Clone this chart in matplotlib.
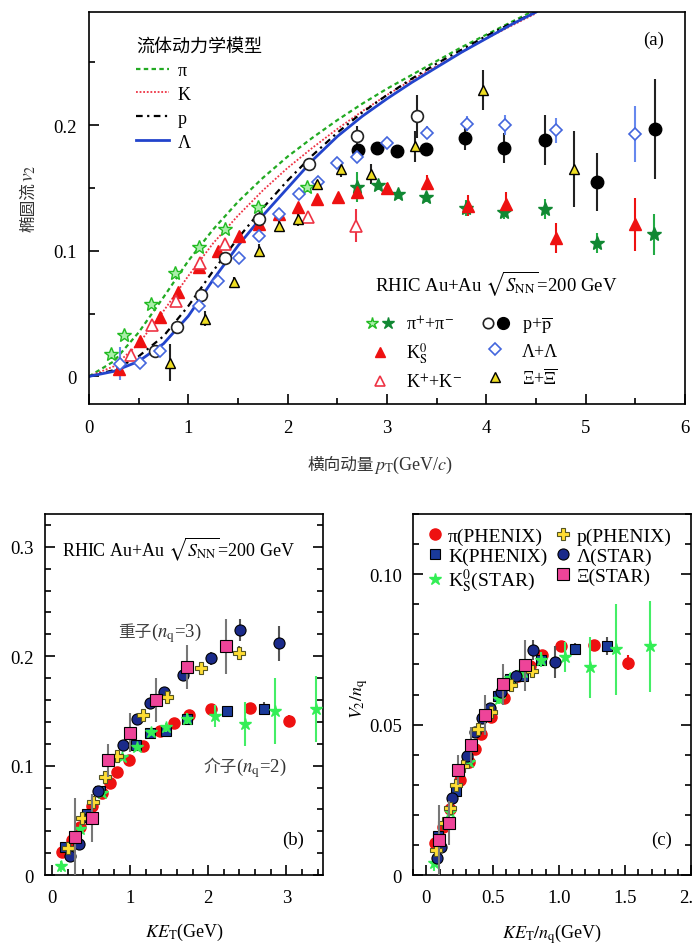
import numpy as np
import matplotlib
matplotlib.use("Agg")
import matplotlib.pyplot as plt
from matplotlib.lines import Line2D
from matplotlib.legend_handler import HandlerTuple
from matplotlib.ticker import MultipleLocator

plt.rcParams['font.family'] = ['Liberation Serif', 'Noto Sans CJK SC', 'DejaVu Sans']
plt.rcParams['mathtext.fontset'] = 'stix'
plt.rcParams['axes.linewidth'] = 1.2
CJK = ['Noto Sans CJK SC']

# ---------------- panel (a): v2 vs pT ----------------
# hydro curves
hydro_pt = [0, 0.25, 0.5, 0.75, 1.0, 1.25, 1.5, 1.75, 2.0, 2.25, 2.5, 2.75, 3.0, 3.25, 3.5, 3.75, 4.0, 4.25, 4.5]
hydro_pi = [0, 0.012, 0.035, 0.063, 0.092, 0.117, 0.139, 0.158, 0.175, 0.190, 0.204, 0.217, 0.229, 0.240, 0.251, 0.262, 0.272, 0.282, 0.292]
hydro_k = [0, 0.008, 0.026, 0.052, 0.080, 0.106, 0.128, 0.148, 0.166, 0.182, 0.197, 0.211, 0.224, 0.236, 0.247, 0.258, 0.269, 0.279, 0.289]
hydro_p = [0, 0.005, 0.016, 0.032, 0.056, 0.084, 0.110, 0.134, 0.156, 0.176, 0.194, 0.210, 0.224, 0.237, 0.249, 0.260, 0.271, 0.281, 0.290]
hydro_lam = [0, 0.004, 0.012, 0.026, 0.048, 0.077, 0.104, 0.128, 0.150, 0.172, 0.191, 0.207, 0.221, 0.234, 0.246, 0.258, 0.269, 0.280, 0.290]

pi_open_x = [0.22, 0.355, 0.62, 0.87, 1.11, 1.37, 1.70, 2.19]
pi_open_y = [0.0175, 0.033, 0.058, 0.0825, 0.103, 0.117, 0.135, 0.151]
pi_open_e = [0.004, 0.003, 0.003, 0.003, 0.003, 0.003, 0.003, 0.004]

pi_fill_x = [2.70, 2.91, 3.11, 3.39, 3.79, 4.18, 4.59, 5.11, 5.69]
pi_fill_y = [0.151, 0.152, 0.145, 0.143, 0.134, 0.131, 0.133, 0.106, 0.113]
pi_fill_e = [0.012, 0.004, 0.004, 0.004, 0.006, 0.006, 0.008, 0.008, 0.016]

k0s_x = [0.30, 0.51, 0.71, 0.90, 1.11, 1.30, 1.51, 1.71, 1.91, 2.10, 2.30, 2.51, 2.70, 3.00, 3.40, 3.81, 4.20, 4.70, 5.50]
k0s_y = [0.006, 0.028, 0.047, 0.067, 0.087, 0.100, 0.112, 0.121, 0.129, 0.135, 0.141, 0.143, 0.147, 0.150, 0.154, 0.136, 0.137, 0.110, 0.121]
k0s_e = [0.003, 0.003, 0.003, 0.003, 0.003, 0.003, 0.003, 0.003, 0.003, 0.003, 0.003, 0.003, 0.004, 0.004, 0.006, 0.008, 0.010, 0.012, 0.021]

kk_x = [0.42, 0.63, 0.88, 1.12, 1.37, 2.20, 2.69]
kk_y = [0.017, 0.041, 0.060, 0.090, 0.105, 0.127, 0.120]
kk_e = [0.003, 0.003, 0.003, 0.003, 0.003, 0.005, 0.013]

p_open_x = [0.66, 0.89, 1.13, 1.37, 1.71, 2.21, 2.70, 3.30]
p_open_y = [0.020, 0.039, 0.065, 0.094, 0.125, 0.169, 0.191, 0.207]
p_open_e = [0.003, 0.003, 0.003, 0.003, 0.004, 0.004, 0.008, 0.017]

p_fill_x = [2.71, 2.90, 3.10, 3.39, 3.78, 4.18, 4.59, 5.11, 5.70]
p_fill_y = [0.180, 0.182, 0.179, 0.181, 0.190, 0.182, 0.188, 0.155, 0.197]
p_fill_e = [0.004, 0.003, 0.003, 0.004, 0.010, 0.012, 0.020, 0.023, 0.040]

lam_x = [0.31, 0.51, 0.71, 1.11, 1.30, 1.51, 1.71, 1.91, 2.11, 2.31, 2.50, 2.70, 3.00, 3.40, 3.80, 4.19, 4.70, 5.50]
lam_y = [0.010, 0.011, 0.020, 0.056, 0.076, 0.094, 0.112, 0.129, 0.145, 0.155, 0.170, 0.175, 0.186, 0.194, 0.201, 0.200, 0.196, 0.193]
lam_e = [0.013, 0.003, 0.003, 0.003, 0.003, 0.003, 0.003, 0.003, 0.003, 0.003, 0.004, 0.004, 0.004, 0.005, 0.006, 0.008, 0.010, 0.022]

xi_x = [0.82, 1.17, 1.46, 1.71, 1.91, 2.10, 2.30, 2.54, 2.84, 3.28, 3.97, 4.88]
xi_y = [0.011, 0.046, 0.075, 0.100, 0.120, 0.125, 0.153, 0.165, 0.161, 0.183, 0.228, 0.165]
xi_e = [0.015, 0.006, 0.004, 0.005, 0.005, 0.005, 0.005, 0.006, 0.008, 0.012, 0.016, 0.030]

# ---------------- panel (b)/(c): v2 vs KE_T ----------------
pi_ke = [0.13, 0.25, 0.36, 0.51, 0.64, 0.74, 0.83, 0.98, 1.17, 1.38, 1.56, 1.75, 2.03, 2.53, 3.04]
pi_v2 = [0.021, 0.032, 0.044, 0.063, 0.075, 0.084, 0.094, 0.105, 0.118, 0.132, 0.139, 0.146, 0.152, 0.153, 0.141]
pi_v2e = [0.002, 0.002, 0.002, 0.002, 0.002, 0.002, 0.002, 0.002, 0.002, 0.002, 0.002, 0.002, 0.003, 0.003, 0.005]

k_ke = [0.17, 0.45, 0.62, 1.08, 1.26, 1.46, 1.73, 2.24, 2.72]
k_v2 = [0.026, 0.056, 0.077, 0.119, 0.130, 0.132, 0.143, 0.150, 0.152]
k_v2e = [0.002, 0.002, 0.002, 0.002, 0.002, 0.002, 0.003, 0.004, 0.006]

k0s_ke = [0.12, 0.36, 0.64, 0.90, 1.09, 1.27, 1.46, 1.73, 2.09, 2.47, 2.86, 3.38]
k0s_v2 = [0.008, 0.042, 0.075, 0.108, 0.117, 0.131, 0.135, 0.143, 0.145, 0.138, 0.150, 0.152]
k0s_v2e = [0.005, 0.002, 0.002, 0.002, 0.003, 0.003, 0.004, 0.005, 0.010, 0.020, 0.030, 0.030]

p_ke = [0.21, 0.39, 0.53, 0.68, 0.83, 1.17, 1.47, 1.91, 2.39]
p_v2 = [0.025, 0.052, 0.067, 0.090, 0.109, 0.146, 0.163, 0.189, 0.203]
p_v2e = [0.003, 0.003, 0.003, 0.003, 0.003, 0.004, 0.004, 0.005, 0.006]

lam_ke = [0.23, 0.34, 0.47, 0.59, 0.91, 1.09, 1.26, 1.43, 1.68, 2.04, 2.41, 2.91]
lam_v2 = [0.017, 0.028, 0.052, 0.077, 0.119, 0.143, 0.157, 0.167, 0.183, 0.198, 0.224, 0.212]
lam_v2e = [0.003, 0.003, 0.003, 0.003, 0.003, 0.003, 0.004, 0.004, 0.005, 0.006, 0.010, 0.016]

xi_ke = [0.29, 0.51, 0.72, 1.00, 1.33, 1.73, 2.23]
xi_v2 = [0.035, 0.052, 0.105, 0.130, 0.160, 0.190, 0.209]
xi_v2e = [0.035, 0.022, 0.015, 0.018, 0.020, 0.020, 0.025]

nq_meson = 2
nq_baryon = 3

fig = plt.figure(figsize=(6.92, 9.45), dpi=100)
ax = fig.add_axes([0.1286, 0.5714, 0.8614, 0.4148])

ax.plot(hydro_pt, hydro_pi, color='#22aa22', ls=(0, (2, 1.5)), lw=1.6, label='π')
ax.plot(hydro_pt, hydro_k, color='#ee3344', ls=(0, (1, 1)), lw=1.3, label='K')
ax.plot(hydro_pt, hydro_p, color='black', ls=(0, (3, 2, 1, 2)), lw=1.6, label='p')
ax.plot(hydro_pt, hydro_lam, color='#2244cc', ls='-', lw=2, label='Λ')

eb = dict(ls='none', elinewidth=1.5, capsize=0)
ax.errorbar(pi_open_x, pi_open_y, yerr=pi_open_e, fmt='*', ms=10, mfc='#aaeeaa', mec='#22bb22', ecolor='#22bb22', **eb)
ax.errorbar(pi_fill_x, pi_fill_y, yerr=pi_fill_e, fmt='*', ms=10, mfc='#118833', mec='#118833', ecolor='#22aa44', **eb)
ax.errorbar(k0s_x, k0s_y, yerr=k0s_e, fmt='^', ms=8, mfc='#ee1111', mec='#ee1111', ecolor='#ee1111', **eb)
ax.errorbar(kk_x, kk_y, yerr=kk_e, fmt='^', ms=8, mfc='white', mec='#ee3344', mew=1.2, ecolor='#ee3344', **eb)
ax.errorbar(p_open_x, p_open_y, yerr=p_open_e, fmt='o', ms=8.5, mfc='white', mec='#222222', mew=1.2, ecolor='#222222', **eb)
ax.errorbar(p_fill_x, p_fill_y, yerr=p_fill_e, fmt='o', ms=9, mfc='black', mec='black', ecolor='#222222', **eb)
ax.errorbar(lam_x, lam_y, yerr=lam_e, fmt='D', ms=6.5, mfc='white', mec='#4466dd', mew=1.2, ecolor='#6688ee', **eb)
ax.errorbar(xi_x, xi_y, yerr=xi_e, fmt='^', ms=7, mfc='#eedd22', mec='black', mew=1.0, ecolor='#222222', **eb)

ax.set_xlim(0, 6)
ax.set_ylim(-0.022, 0.29)
ax.set_xticks([0, 1, 2, 3, 4, 5, 6])
ax.xaxis.set_minor_locator(MultipleLocator(0.5))
ax.set_yticks([0, 0.1, 0.2], ['0', '0.1', '0.2'])
ax.yaxis.set_minor_locator(MultipleLocator(0.05))
ax.tick_params(which='both', direction='in', labelsize=13.5)
ax.tick_params(axis='x', pad=11)
ax.tick_params(axis='y', pad=9)
ax.tick_params(which='major', length=7, width=1.2)
ax.tick_params(which='minor', length=4, width=1.2)

# axis labels: Chinese part and math part share one anchor point
ax.text(0.478, -0.166, '横向动量', transform=ax.transAxes, ha='right', va='baseline',
        fontsize=12, family=CJK, color='#333333')
ax.text(0.478, -0.166, '$p_{\\rm T}$(GeV/$c$)', transform=ax.transAxes, ha='left', va='baseline',
        fontsize=13, color='#333333')
ax.text(-0.094, 0.569, '椭圆流', transform=ax.transAxes, rotation=90, rotation_mode='anchor',
        ha='right', va='baseline', fontsize=12, family=CJK, color='#333333')
ax.text(-0.094, 0.569, '$v_2$', transform=ax.transAxes, rotation=90, rotation_mode='anchor',
        ha='left', va='baseline', fontsize=14, color='#333333')
ax.text(0.965, 0.93, '(a)', transform=ax.transAxes, fontsize=13.5, ha='right', va='center')

leg1 = ax.legend(loc='upper left', bbox_to_anchor=(0.052, 0.975), frameon=False, fontsize=13,
                 title='流体动力学模型', title_fontsize=13, handlelength=1.8, labelspacing=0.38,
                 handletextpad=0.5)
leg1._legend_box.align = 'left'
ax.add_artist(leg1)

h_pi = (Line2D([], [], ls='none', marker='*', ms=9, mfc='#aaeeaa', mec='#22bb22'),
        Line2D([], [], ls='none', marker='*', ms=9, mfc='#118833', mec='#118833'))
h_k0 = Line2D([], [], ls='none', marker='^', ms=7.5, mfc='#ee1111', mec='#ee1111')
h_kk = Line2D([], [], ls='none', marker='^', ms=7.5, mfc='white', mec='#ee3344', mew=1.2)
h_p = (Line2D([], [], ls='none', marker='o', ms=7.5, mfc='white', mec='#222222', mew=1.2),
       Line2D([], [], ls='none', marker='o', ms=8.5, mfc='black', mec='black'))
h_lam = Line2D([], [], ls='none', marker='D', ms=6, mfc='white', mec='#4466dd', mew=1.2)
h_xi = Line2D([], [], ls='none', marker='^', ms=6.5, mfc='#eedd22', mec='black')
ax.legend([h_pi, h_k0, h_kk, h_p, h_lam, h_xi],
          ['π$^{+}$+π$^{-}$', 'K$^{0}_{\\rm S}$', 'K$^{+}$+K$^{-}$',
           'p+$\\overline{\\rm p}$', 'Λ+Λ', 'Ξ+$\\overline{\\Xi}$'],
          ncol=2, loc='upper left', bbox_to_anchor=(0.435, 0.27), frameon=False, fontsize=13,
          handler_map={tuple: HandlerTuple(ndivide=None, pad=0.0)}, handlelength=1.7,
          labelspacing=0.42, columnspacing=1.0, handletextpad=0.6)
ax.text(0.683, 0.311, 'RHIC Au+Au $\\sqrt{S_{\\rm NN}}$=200 GeV', transform=ax.transAxes,
        fontsize=13.5, ha='center', va='center')


# ---------------- panels (b) and (c) ----------------
def draw_series(a, nq_m, nq_b):
    kw = dict(ls='none', elinewidth=1.5, capsize=0)
    a.errorbar(np.array(k0s_ke) / nq_m, np.array(k0s_v2) / nq_m, yerr=np.array(k0s_v2e) / nq_m,
               fmt='*', ms=9, mfc='#33ee55', mec='#33ee55', ecolor='#44ee66', zorder=3, **kw)
    a.errorbar(np.array(pi_ke) / nq_m, np.array(pi_v2) / nq_m, yerr=np.array(pi_v2e) / nq_m,
               fmt='o', ms=8, mfc='#ee1111', mec='#ee1111', ecolor='#ee1111', zorder=2, **kw)
    a.errorbar(np.array(k_ke) / nq_m, np.array(k_v2) / nq_m, yerr=np.array(k_v2e) / nq_m,
               fmt='s', ms=7.5, mfc='#1a3a9a', mec='black', mew=0.8, ecolor='#555555', zorder=2, **kw)
    a.errorbar(np.array(p_ke) / nq_b, np.array(p_v2) / nq_b, yerr=np.array(p_v2e) / nq_b,
               fmt='P', ms=9, mfc='#ffdd33', mec='#555522', mew=0.8, ecolor='#555555', zorder=4, **kw)
    a.errorbar(np.array(lam_ke) / nq_b, np.array(lam_v2) / nq_b, yerr=np.array(lam_v2e) / nq_b,
               fmt='o', ms=8, mfc='#1a2a8a', mec='black', mew=0.8, ecolor='#555555', zorder=3, **kw)
    a.errorbar(np.array(xi_ke) / nq_b, np.array(xi_v2) / nq_b, yerr=np.array(xi_v2e) / nq_b,
               fmt='s', ms=8, mfc='#ee4499', mec='black', mew=0.8, ecolor='#777777', zorder=5, **kw)


def style(a):
    a.tick_params(which='both', direction='in', labelsize=13.5, right=True)
    a.tick_params(axis='x', pad=10)
    a.tick_params(axis='y', pad=8)
    a.tick_params(which='major', length=7, width=1.2)
    a.tick_params(which='minor', length=4, width=1.2)


axb = fig.add_axes([0.065, 0.073, 0.4018, 0.382])
draw_series(axb, 1, 1)
axb.set_xlim(-0.09, 3.47)
axb.set_ylim(0, 0.33)
axb.set_xticks([0, 1, 2, 3])
axb.xaxis.set_minor_locator(MultipleLocator(0.2))
axb.set_yticks([0, 0.1, 0.2, 0.3], ['0', '0.1', '0.2', '0.3'])
axb.yaxis.set_minor_locator(MultipleLocator(0.02))
style(axb)
axb.set_xlabel('$KE_{\\rm T}$(GeV)', fontsize=13, labelpad=11)
axb.text(0.06, 0.905, 'RHIC Au+Au $\\sqrt{S_{\\rm NN}}$=200 GeV', transform=axb.transAxes,
         fontsize=13, ha='left', va='center')
axb.text(1.27, 0.2185, '重子', fontsize=12, family=CJK, ha='right', va='baseline', color='#444444')
axb.text(1.27, 0.2185, '($n_{\\rm q}$=3)', fontsize=13.5, ha='left', va='baseline', color='#333333')
axb.text(2.36, 0.095, '介子', fontsize=12, family=CJK, ha='right', va='baseline', color='#444444')
axb.text(2.36, 0.095, '($n_{\\rm q}$=2)', fontsize=13.5, ha='left', va='baseline', color='#333333')
axb.text(0.93, 0.10, '(b)', transform=axb.transAxes, fontsize=13.5, ha='right', va='center')

axc = fig.add_axes([0.597, 0.073, 0.402, 0.382])
draw_series(axc, nq_meson, nq_baryon)
axc.set_xlim(-0.1, 2.0)
axc.set_ylim(0, 0.12)
axc.set_xticks([0, 0.5, 1.0, 1.5, 2.0], ['0', '0.5', '1.0', '1.5', '2.0'])
axc.xaxis.set_minor_locator(MultipleLocator(0.1))
axc.set_yticks([0, 0.05, 0.10], ['0', '0.05', '0.10'])
axc.yaxis.set_minor_locator(MultipleLocator(0.01))
style(axc)
axc.set_xlabel('$KE_{\\rm T}/n_{\\rm q}$(GeV)', fontsize=13, labelpad=11)
axc.set_ylabel('$V_2/n_{\\rm q}$', fontsize=13)
axc.yaxis.set_label_coords(-0.155, 0.49)
axc.text(0.93, 0.10, '(c)', transform=axc.transAxes, fontsize=13.5, ha='right', va='center')

hc = [Line2D([], [], ls='none', marker='o', ms=8, mfc='#ee1111', mec='#ee1111'),
      Line2D([], [], ls='none', marker='s', ms=7.5, mfc='#1a3a9a', mec='black', mew=0.8),
      Line2D([], [], ls='none', marker='*', ms=9, mfc='#33ee55', mec='#33ee55'),
      Line2D([], [], ls='none', marker='P', ms=9, mfc='#ffdd33', mec='#555522', mew=0.8),
      Line2D([], [], ls='none', marker='o', ms=8, mfc='#1a2a8a', mec='black', mew=0.8),
      Line2D([], [], ls='none', marker='s', ms=8, mfc='#ee4499', mec='black', mew=0.8)]
axc.legend(hc, ['π(PHENIX)', 'K(PHENIX)', 'K$^{0}_{\\rm S}$(STAR)', 'p(PHENIX)', 'Λ(STAR)', 'Ξ(STAR)'],
           ncol=2, loc='upper left', bbox_to_anchor=(0.0, 1.0), frameon=False, fontsize=14,
           handlelength=0.8, handletextpad=0.3, columnspacing=0.4, labelspacing=0.1, borderaxespad=0.3)

fig.savefig('out.png', dpi=100)
